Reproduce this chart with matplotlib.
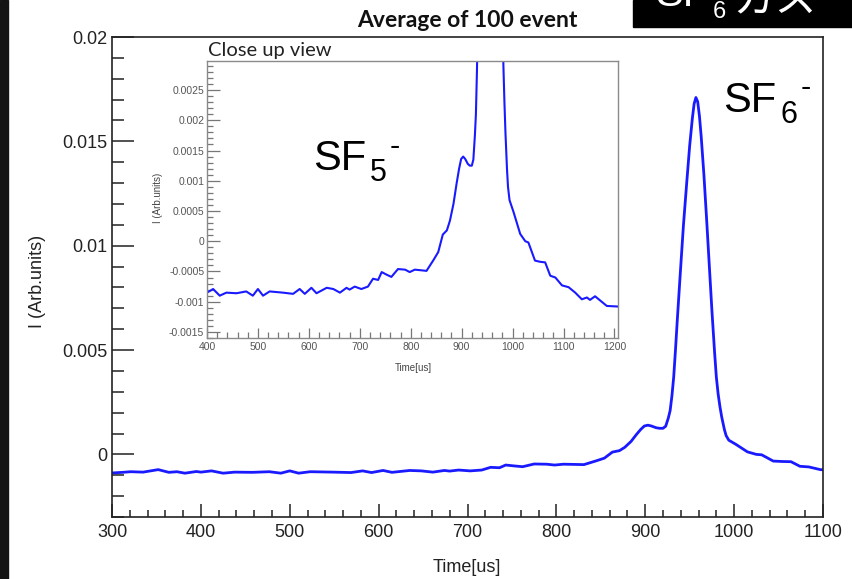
import matplotlib
matplotlib.use("Agg")
import matplotlib.pyplot as plt
from matplotlib.ticker import MultipleLocator, FuncFormatter
from matplotlib.patches import Rectangle

# ---------------- data ----------------
time_us = [300, 312, 321, 335, 352, 364, 373, 382, 395, 400, 412, 425, 438, 458,
           477, 490, 500, 510, 523, 549, 569, 582, 592, 605, 615, 635, 648, 661,
           674, 680, 690, 703, 716, 726, 736, 743, 752, 762, 775, 789, 798, 808,
           820, 831, 844, 854, 863, 871, 877, 884, 890, 895, 899, 903, 907, 912,
           916, 920, 923, 926, 928, 930, 932, 934, 936, 939, 943, 947, 950, 953,
           955, 957, 959, 961, 963, 966, 969, 972, 975, 978, 980, 982, 984, 986,
           989, 991, 994, 1002, 1015, 1025, 1031, 1044, 1054, 1064, 1074, 1084,
           1097, 1110, 1123, 1136, 1146, 1152, 1162, 1172, 1185, 1208]
current = [-0.00089, -0.00086, -0.00083, -0.00085, -0.00073, -0.00086, -0.00083,
           -0.00090, -0.00082, -0.00085, -0.00079, -0.00090, -0.00085, -0.00086,
           -0.00083, -0.00090, -0.00079, -0.00090, -0.00083, -0.00085, -0.00087,
           -0.00079, -0.00087, -0.00077, -0.00086, -0.00077, -0.00079, -0.00085,
           -0.00077, -0.00080, -0.00075, -0.00079, -0.00075, -0.00062, -0.00064,
           -0.00051, -0.00055, -0.00059, -0.00046, -0.00047, -0.00051, -0.00047,
           -0.00048, -0.00049, -0.00032, -0.00018, 0.00011, 0.00018, 0.00034,
           0.00062, 0.00095, 0.00120, 0.00136, 0.00140, 0.00136, 0.00128,
           0.00125, 0.00125, 0.00135, 0.00175, 0.0021, 0.0028, 0.0037, 0.0050,
           0.0064, 0.0084, 0.0110, 0.0132, 0.0148, 0.0161, 0.0168, 0.0171,
           0.0169, 0.0162, 0.0152, 0.0134, 0.0113, 0.0091, 0.0069, 0.0049,
           0.0037, 0.0029, 0.0023, 0.0018, 0.0012, 0.0009, 0.00068, 0.00048,
           0.00012, 0.00000, -0.00002, -0.00032, -0.00034, -0.00035, -0.00057,
           -0.00060, -0.00073, -0.00076, -0.00085, -0.00096, -0.00093, -0.00097,
           -0.00091, -0.00098, -0.00107, -0.00108]

main_xlim = (300, 1100)
main_ylim = (-0.003, 0.02)
inset_xlim = (400, 1207)
inset_ylim = (-0.0016, 0.00298)

title_text = "Average of 100 event"
inset_title = "Close up view"
xlabel_text = "Time[us]"
ylabel_text = "I (Arb.units)"

W, H = 852, 579
fig = plt.figure(figsize=(W / 100, H / 100), dpi=100)
fig.patch.set_facecolor("white")


def fx(x):
    return x / W


def fy(y):
    return 1 - y / H


fmt = FuncFormatter(lambda v, p: "%g" % v)
blue = "#1a1aff"

# ---------------- main axes ----------------
ax = fig.add_axes([fx(112), fy(517), fx(823) - fx(112), fy(37) - fy(517)])
ax.plot(time_us, current, color=blue, lw=2.0)
ax.set_xlim(*main_xlim)
ax.set_ylim(*main_ylim)
ax.xaxis.set_major_locator(MultipleLocator(100))
ax.xaxis.set_minor_locator(MultipleLocator(20))
ax.yaxis.set_major_locator(MultipleLocator(0.005))
ax.yaxis.set_minor_locator(MultipleLocator(0.001))
ax.yaxis.set_major_formatter(fmt)
for s in ax.spines.values():
    s.set_linewidth(1.2)
    s.set_color("#222222")
ax.tick_params(axis="both", which="both", direction="in", color="#222222",
               width=1.1, labelsize=13, labelcolor="#222222")
ax.tick_params(axis="y", which="major", length=16, pad=3)
ax.tick_params(axis="y", which="minor", length=8.5)
ax.tick_params(axis="x", which="major", length=9.5, pad=5)
ax.tick_params(axis="x", which="minor", length=5)
for lab in ax.get_xticklabels() + ax.get_yticklabels():
    lab.set_family("Liberation Sans")
ax.set_xlabel(xlabel_text, fontsize=13, family="Liberation Sans", color="#222222")
ax.set_ylabel(ylabel_text, fontsize=13, family="Liberation Sans", color="#222222")
ax.xaxis.set_label_coords(0.499, -0.088)
ax.yaxis.set_label_coords(-0.093, 0.49)

# ---------------- inset ----------------
ins = fig.add_axes([fx(207), fy(338), fx(618) - fx(207), fy(61) - fy(338)])
ins.plot(time_us, current, color=blue, lw=1.5)
ins.set_xlim(*inset_xlim)
ins.set_ylim(*inset_ylim)
ins.xaxis.set_major_locator(MultipleLocator(100))
ins.xaxis.set_minor_locator(MultipleLocator(20))
ins.yaxis.set_major_locator(MultipleLocator(0.0005))
ins.yaxis.set_minor_locator(MultipleLocator(0.0001))
ins.yaxis.set_major_formatter(fmt)
for s in ins.spines.values():
    s.set_linewidth(1.0)
    s.set_color("#8a8a8a")
ins.tick_params(axis="both", which="both", direction="in", color="#777777",
                width=0.9, labelsize=7.5, labelcolor="#555555")
ins.tick_params(axis="y", which="major", length=9, pad=2)
ins.tick_params(axis="y", which="minor", length=4.5)
ins.tick_params(axis="x", which="major", length=7, pad=3)
ins.tick_params(axis="x", which="minor", length=4)
for lab in ins.get_xticklabels() + ins.get_yticklabels():
    lab.set_family("Liberation Sans")
ins.set_xlabel(xlabel_text, fontsize=7, family="Liberation Sans", color="#444444")
ins.set_ylabel(ylabel_text, fontsize=7, family="Liberation Sans", color="#444444")
ins.xaxis.set_label_coords(0.501, -0.09)
ins.yaxis.set_label_coords(-0.107, 0.505)
fig.text(fx(208), fy(56), inset_title, fontsize=14.5, family="Lato",
         color="#222222", ha="left", va="baseline")

# ---------------- title ----------------
fig.text(fx(467), fy(27), title_text, fontsize=16.5, family="Lato",
         weight="bold", color="#111111", ha="center", va="baseline")

# ---------------- ion labels ----------------
def ion(x, y, sub, sup_x, sup_y, sub_x):
    fig.text(fx(x), fy(y), "SF", fontsize=30, family="Liberation Sans",
             ha="left", va="baseline", color="black")
    fig.text(fx(sub_x), fy(y + 11), sub, fontsize=22, family="Liberation Sans",
             ha="left", va="baseline", color="black")
    fig.text(fx(sup_x), fy(sup_y), "-", fontsize=22, family="Liberation Sans",
             ha="left", va="baseline", color="black")


ion(723, 112, "6", 801, 96, 780)
ion(313, 170, "5", 390, 155, 370)

# ---------------- decorations ----------------
fig.add_artist(Rectangle((0, fy(H)), fx(8), 1, transform=fig.transFigure,
                         color="#141414", zorder=5))
fig.add_artist(Rectangle((fx(633), fy(27)), 1 - fx(633), fy(0) - fy(27),
                         transform=fig.transFigure, color="black", zorder=5))
fig.text(fx(655), fy(6), "SF", fontsize=30, family="Liberation Sans",
         color="white", ha="left", va="baseline", zorder=6)
fig.text(fx(713), fy(18), "6", fontsize=17, family="Liberation Sans",
         color="white", ha="left", va="baseline", zorder=6)
fig.text(fx(733), fy(12), "ガス", fontsize=30, family=["Noto Sans CJK JP", "DejaVu Sans"],
         color="white", ha="left", va="baseline", zorder=6)

fig.savefig("out.png", dpi=100)
